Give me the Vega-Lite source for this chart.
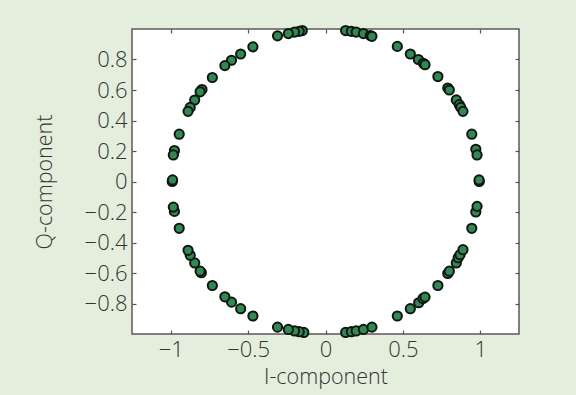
{
  "$schema": "https://vega.github.io/schema/vega-lite/v6.json",
  "autosize": "none",
  "width": 387,
  "height": 305,
  "padding": {"left": 132, "top": 29, "right": 57, "bottom": 61},
  "background": "#e3eedc",
  "config": {
    "view": {"fill": "#ffffff", "stroke": "#5a5a5a", "strokeWidth": 1.5},
    "axis": {
      "domain": false,
      "grid": false,
      "tickSize": -4,
      "tickColor": "#555555",
      "tickWidth": 1.2,
      "labelFont": "Open Sans",
      "labelFontSize": 22,
      "labelFontWeight": 300,
      "labelColor": "#333333",
      "titleFont": "Open Sans",
      "titleFontSize": 21.5,
      "titleFontWeight": 300,
      "titleColor": "#333333"
    }
  },
  "data": {"values": [
    {"i": 0.13, "q": 0.99}, {"i": 0.167, "q": 0.985}, {"i": 0.198, "q": 0.98}, {"i": 0.245, "q": 0.97}, {"i": 0.29, "q": 0.957}, {"i": 0.30, "q": 0.952},
    {"i": 0.464, "q": 0.886}, {"i": 0.548, "q": 0.836}, {"i": 0.60, "q": 0.80}, {"i": 0.632, "q": 0.775}, {"i": 0.643, "q": 0.766}, {"i": 0.726, "q": 0.688},
    {"i": 0.79, "q": 0.613}, {"i": 0.80, "q": 0.60}, {"i": 0.845, "q": 0.535}, {"i": 0.864, "q": 0.504}, {"i": 0.874, "q": 0.486}, {"i": 0.888, "q": 0.46},
    {"i": 0.945, "q": 0.31}, {"i": 0.971, "q": 0.211}, {"i": 0.979, "q": 0.174}, {"i": 0.993, "q": 0.0}, {"i": 0.992, "q": 0.01},
    {"i": 0.13, "q": -0.99}, {"i": 0.167, "q": -0.985}, {"i": 0.198, "q": -0.98}, {"i": 0.245, "q": -0.97}, {"i": 0.30, "q": -0.955},
    {"i": 0.464, "q": -0.882}, {"i": 0.548, "q": -0.834}, {"i": 0.602, "q": -0.795}, {"i": 0.63, "q": -0.767}, {"i": 0.643, "q": -0.758}, {"i": 0.726, "q": -0.682},
    {"i": 0.79, "q": -0.603}, {"i": 0.80, "q": -0.588}, {"i": 0.845, "q": -0.534}, {"i": 0.857, "q": -0.50}, {"i": 0.869, "q": -0.48}, {"i": 0.888, "q": -0.447},
    {"i": 0.945, "q": -0.307}, {"i": 0.971, "q": -0.2}, {"i": 0.979, "q": -0.163},
    {"i": -0.15, "q": 0.99}, {"i": -0.17, "q": 0.985}, {"i": -0.20, "q": 0.98}, {"i": -0.24, "q": 0.97}, {"i": -0.31, "q": 0.955},
    {"i": -0.469, "q": 0.883}, {"i": -0.548, "q": 0.836}, {"i": -0.607, "q": 0.795}, {"i": -0.65, "q": 0.76}, {"i": -0.731, "q": 0.682},
    {"i": -0.798, "q": 0.603}, {"i": -0.81, "q": 0.588}, {"i": -0.845, "q": 0.534}, {"i": -0.874, "q": 0.486}, {"i": -0.888, "q": 0.46},
    {"i": -0.945, "q": 0.31}, {"i": -0.976, "q": 0.203}, {"i": -0.983, "q": 0.174}, {"i": -0.99, "q": 0.0}, {"i": -0.988, "q": 0.01},
    {"i": -0.14, "q": -0.99}, {"i": -0.17, "q": -0.985}, {"i": -0.20, "q": -0.98}, {"i": -0.24, "q": -0.97}, {"i": -0.31, "q": -0.955},
    {"i": -0.469, "q": -0.882}, {"i": -0.548, "q": -0.834}, {"i": -0.607, "q": -0.791}, {"i": -0.65, "q": -0.756}, {"i": -0.731, "q": -0.682},
    {"i": -0.802, "q": -0.598}, {"i": -0.81, "q": -0.588}, {"i": -0.845, "q": -0.534}, {"i": -0.874, "q": -0.484}, {"i": -0.888, "q": -0.451},
    {"i": -0.945, "q": -0.307}, {"i": -0.976, "q": -0.196}, {"i": -0.983, "q": -0.168}
  ]},
  "layer": [
    {
      "mark": {"type": "point", "filled": true, "shape": "circle", "size": 85, "fill": "#2a8c4e", "stroke": "#141414", "strokeWidth": 2, "opacity": 1},
      "encoding": {
        "x": {"field": "i", "type": "quantitative", "scale": {"domain": [-1.25, 1.25], "nice": false, "zero": false},
              "axis": {"orient": "bottom", "title": "I-component", "values": [-1, -0.5, 0, 0.5, 1], "format": "~g", "labelPadding": 9, "titlePadding": 6}},
        "y": {"field": "q", "type": "quantitative", "scale": {"domain": [-1, 1], "nice": false, "zero": false},
              "axis": {"orient": "left", "title": "Q-component", "values": [-0.8, -0.6, -0.4, -0.2, 0, 0.2, 0.4, 0.6, 0.8], "format": "~g", "labelPadding": 9, "titlePadding": 28}}
      }
    },
    {
      "mark": {"type": "point", "opacity": 0},
      "encoding": {
        "x": {"field": "i", "type": "quantitative", "axis": {"orient": "top", "title": null, "labels": false, "values": [-1, -0.5, 0, 0.5, 1]}},
        "y": {"field": "q", "type": "quantitative", "axis": {"orient": "right", "title": null, "labels": false, "values": [-0.8, -0.6, -0.4, -0.2, 0, 0.2, 0.4, 0.6, 0.8]}}
      }
    }
  ],
  "resolve": {"axis": {"x": "independent", "y": "independent"}}
}
